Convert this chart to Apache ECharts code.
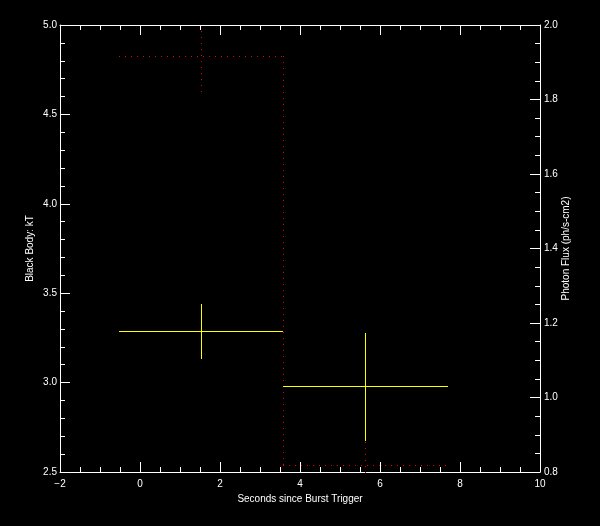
<!DOCTYPE html>
<html>
<head>
<meta charset="utf-8">
<script src="https://cdn.jsdelivr.net/npm/echarts@6/dist/echarts.min.js"></script>
<style>html,body{margin:0;padding:0;background:#000;}#chart{width:600px;height:526px;}</style>
</head>
<body>
<div id="chart"></div>
<script>
// Time bins (seconds since burst trigger)
const binStart = [-0.53, 3.58];
const binEnd = [3.58, 7.69];
const binMid = [1.53, 5.63];
// Black body kT (left axis)
const kT = [3.29, 2.98];
const kTLow = [3.13, 2.675];
const kTHigh = [3.44, 3.28];
// Photon flux (right axis)
const flux = [1.916, 0.819];
const fluxLow = [1.821, 0.796];
const fluxHigh = [1.984, 0.884];
// Axis ticks
const xTicks = [-2, 0, 2, 4, 6, 8, 10];
const kTTicks = [2.5, 3.0, 3.5, 4.0, 4.5, 5.0];
const fluxTicks = [0.8, 1.0, 1.2, 1.4, 1.6, 1.8, 2.0];

const FONT = 'Liberation Sans';
const WHITE = '#ffffff';
const YELLOW = '#ffff00';
const RED = '#ee0000';

const kTData = kT.map((v, i) => [binStart[i], binEnd[i], binMid[i], v, kTLow[i], kTHigh[i]]);
const fluxErrData = flux.map((v, i) => [binMid[i], fluxLow[i], fluxHigh[i]]);
// step: [start, end, flux, next flux (NaN for last)]
const fluxStepData = flux.map((v, i) => [binStart[i], binEnd[i], v, i + 1 < flux.length ? flux[i + 1] : NaN]);

const px = v => Math.round(v) + 0.5;
function hLine(a, b, color, dash) {
  const y = px(a[1]);
  return { type: 'line', shape: { x1: Math.round(a[0]), y1: y, x2: Math.round(b[0]), y2: y },
    style: { stroke: color, lineWidth: 1, lineDash: dash || null } };
}
function vLine(a, b, color, dash) {
  const x = px(a[0]);
  return { type: 'line', shape: { x1: x, y1: Math.round(a[1]), x2: x, y2: Math.round(b[1]) },
    style: { stroke: color, lineWidth: 1, lineDash: dash || null } };
}

function axisCommon() {
  return {
    axisLine: { show: true, onZero: false, lineStyle: { color: WHITE, width: 1 } },
    axisTick: { show: true, inside: true, length: 10, lineStyle: { color: WHITE } },
    minorTick: { show: true, length: 5, lineStyle: { color: WHITE } },
    splitLine: { show: false },
    axisLabel: { color: WHITE, fontFamily: FONT, fontSize: 10 }
  };
}

const chart = echarts.init(document.getElementById('chart'), null, { renderer: 'canvas' });
const xa = axisCommon();
const xTop = axisCommon();
const yl = axisCommon();
const yr = axisCommon();

chart.setOption({
  backgroundColor: '#000000',
  animation: false,
  grid: { left: 60, right: 60, top: 25, bottom: 54, containLabel: false },
  xAxis: [
    Object.assign(xa, {
      type: 'value', position: 'bottom', min: xTicks[0], max: xTicks[xTicks.length - 1], interval: 2,
      minorTick: Object.assign(xa.minorTick, { splitNumber: 4 }),
      axisLabel: Object.assign(xa.axisLabel, { margin: 7, formatter: v => (v < 0 ? '\u2212' + Math.abs(v) : String(v)) }),
      name: 'Seconds since Burst Trigger', nameLocation: 'middle', nameGap: 22, nameMoveOverlap: false,
      nameTextStyle: { color: WHITE, fontFamily: FONT, fontSize: 10 }
    }),
    Object.assign(xTop, {
      type: 'value', position: 'top', min: xTicks[0], max: xTicks[xTicks.length - 1], interval: 2,
      minorTick: Object.assign(xTop.minorTick, { splitNumber: 4 }),
      axisLabel: { show: false }
    })
  ],
  yAxis: [
    Object.assign(yl, {
      type: 'value', position: 'left', min: kTTicks[0], max: kTTicks[kTTicks.length - 1], interval: 0.5,
      minorTick: Object.assign(yl.minorTick, { splitNumber: 5 }),
      axisLabel: Object.assign(yl.axisLabel, { margin: 3, formatter: v => v.toFixed(1) }),
      name: 'Black Body: kT', nameLocation: 'middle', nameGap: 25, nameRotate: 90, nameMoveOverlap: false,
      nameTextStyle: { color: WHITE, fontFamily: FONT, fontSize: 10 }
    }),
    Object.assign(yr, {
      type: 'value', position: 'right', min: fluxTicks[0], max: fluxTicks[fluxTicks.length - 1], interval: 0.2,
      minorTick: Object.assign(yr.minorTick, { splitNumber: 4 }),
      axisLabel: Object.assign(yr.axisLabel, { margin: 4, formatter: v => v.toFixed(1) }),
      name: 'Photon Flux (ph/s-cm2)', nameLocation: 'middle', nameGap: 21, nameRotate: 90, nameMoveOverlap: false,
      nameTextStyle: { color: WHITE, fontFamily: FONT, fontSize: 10 }
    })
  ],
  series: [
    {
      type: 'custom', xAxisIndex: 0, yAxisIndex: 1, data: fluxStepData, clip: false, z: 1,
      renderItem: function (params, api) {
        const a = api.coord([api.value(0), api.value(2)]);
        const b = api.coord([api.value(1), api.value(2)]);
        const children = [hLine(a, b, RED, [1, 5])];
        const nxt = api.value(3);
        if (!isNaN(nxt)) {
          const c = api.coord([api.value(1), nxt]);
          children.push(vLine(b, c, RED, [1, 5]));
        }
        return { type: 'group', children: children };
      }
    },
    {
      type: 'custom', xAxisIndex: 0, yAxisIndex: 1, data: fluxErrData, clip: false, z: 1,
      renderItem: function (params, api) {
        const a = api.coord([api.value(0), api.value(1)]);
        const b = api.coord([api.value(0), api.value(2)]);
        return vLine(a, b, RED, [1, 5]);
      }
    },
    {
      type: 'custom', xAxisIndex: 0, yAxisIndex: 0, data: kTData, z: 2,
      renderItem: function (params, api) {
        const l = api.coord([api.value(0), api.value(3)]);
        const r = api.coord([api.value(1), api.value(3)]);
        const lo = api.coord([api.value(2), api.value(4)]);
        const hi = api.coord([api.value(2), api.value(5)]);
        return { type: 'group', children: [hLine(l, r, YELLOW), vLine(lo, hi, YELLOW)] };
      }
    }
  ]
});
</script>
</body>
</html>
